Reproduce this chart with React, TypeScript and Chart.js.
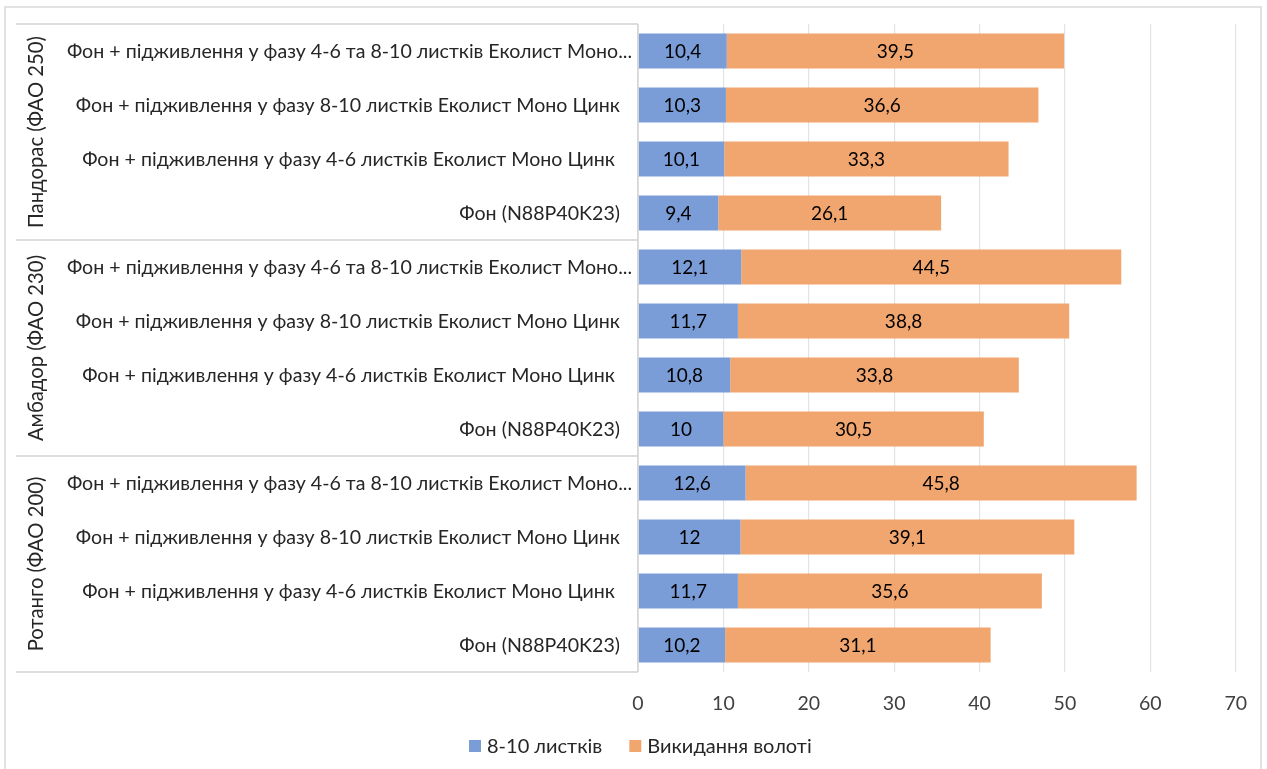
import React, { useEffect, useRef } from "react";
import { Chart, registerables } from "chart.js";

Chart.register(...registerables);

const groups = ["Пандорас (ФАО 250)", "Амбадор (ФАО 230)", "Ротанго (ФАО 200)"];
const variants = [
  "Фон + підживлення у фазу 4-6 та 8-10 листків Еколист Моно...",
  "Фон + підживлення у фазу 8-10 листків Еколист Моно Цинк",
  "Фон + підживлення у фазу 4-6 листків Еколист Моно Цинк ",
  "Фон (N88P40K23)",
];
const categories = groups.flatMap(() => variants);
const seriesNames = ["8-10 листків", "Викидання волоті"];
const leaves810 = [10.4, 10.3, 10.1, 9.4, 12.1, 11.7, 10.8, 10, 12.6, 12, 11.7, 10.2];
const panicle = [39.5, 36.6, 33.3, 26.1, 44.5, 38.8, 33.8, 30.5, 45.8, 39.1, 35.6, 31.1];
const xTicks = [0, 10, 20, 30, 40, 50, 60, 70];

const FONT = "Lato, 'Open Sans', sans-serif";
const BLUE = "#7b9dd7";
const ORANGE = "#f2a66f";
const LINE = "#d4d4d4";

const framePlugin = {
  id: "frame",
  beforeDraw(chart: any) {
    const { ctx, width, height } = chart;
    ctx.save();
    ctx.fillStyle = "#ffffff";
    ctx.fillRect(0, 0, width, height);
    ctx.strokeStyle = "#d9d9d9";
    ctx.lineWidth = 1.5;
    ctx.strokeRect(5, 7, 1256, height + 10);
    ctx.restore();
  },
  afterDraw(chart: any) {
    const { ctx, chartArea } = chart;
    const y = chart.scales.y;
    const left = 16;
    const right = chartArea.left;
    ctx.save();
    ctx.strokeStyle = LINE;
    ctx.lineWidth = 1.5;
    const per = variants.length;
    const bounds: number[] = [chartArea.top];
    for (let g = 1; g < groups.length; g++) {
      const a = y.getPixelForValue(g * per - 1);
      const b = y.getPixelForValue(g * per);
      bounds.push((a + b) / 2);
    }
    bounds.push(chartArea.bottom);
    ctx.beginPath();
    bounds.forEach((yy) => {
      ctx.moveTo(left, yy);
      ctx.lineTo(right, yy);
    });
    ctx.moveTo(right, chartArea.top);
    ctx.lineTo(right, chartArea.bottom);
    ctx.stroke();

    // group labels
    ctx.fillStyle = "#262626";
    ctx.font = `20.3px ${FONT}`;
    ctx.textAlign = "center";
    ctx.textBaseline = "middle";
    groups.forEach((g, i) => {
      const cy = (bounds[i] + bounds[i + 1]) / 2;
      ctx.save();
      ctx.translate(36, cy);
      ctx.rotate(-Math.PI / 2);
      ctx.fillText(g, 0, 0);
      ctx.restore();
    });

    // category labels
    ctx.font = `19.6px ${FONT}`;
    ctx.textAlign = "right";
    categories.forEach((c, i) => {
      const cy = y.getPixelForValue(i);
      const rx = c.endsWith("...") ? right - 6 : right - 18;
      ctx.fillText(c, rx, cy + 1);
    });

    // value labels
    ctx.fillStyle = "#000000";
    ctx.font = `19px ${FONT}`;
    ctx.textAlign = "center";
    chart.data.datasets.forEach((ds: any, di: number) => {
      const meta = chart.getDatasetMeta(di);
      meta.data.forEach((el: any, i: number) => {
        const v = ds.data[i];
        const cx = (el.x + el.base) / 2;
        ctx.fillText(String(v).replace(".", ","), cx, el.y + 1);
      });
    });

    // legend
    ctx.font = `20px ${FONT}`;
    ctx.textAlign = "left";
    ctx.fillStyle = "#262626";
    const colors = [BLUE, ORANGE];
    const ly = 746;
    let lx = 469;
    seriesNames.forEach((name, i) => {
      ctx.fillStyle = colors[i];
      ctx.fillRect(lx, ly - 6, 12, 12);
      ctx.fillStyle = "#262626";
      ctx.fillText(name, lx + 18, ly + 1);
      lx += 18 + ctx.measureText(name).width + 27;
    });
    ctx.restore();
  },
};

export default function App() {
  const ref = useRef<HTMLCanvasElement>(null);
  useEffect(() => {
    if (!ref.current) return;
    const chart = new Chart(ref.current, {
      type: "bar",
      data: {
        labels: categories,
        datasets: [
          { label: seriesNames[0], data: leaves810, backgroundColor: BLUE, borderWidth: 0 },
          { label: seriesNames[1], data: panicle, backgroundColor: ORANGE, borderWidth: 0 },
        ],
      },
      plugins: [framePlugin],
      options: {
        indexAxis: "y",
        animation: false,
        responsive: true,
        maintainAspectRatio: false,
        datasets: { bar: { barPercentage: 0.65, categoryPercentage: 1 } },
        layout: { padding: { top: 24, right: 29, left: 0, bottom: 45 } },
        scales: {
          x: {
            stacked: true,
            min: 0,
            max: 70,
            afterBuildTicks(scale: any) {
              scale.ticks = xTicks.map((v) => ({ value: v }));
            },
            afterFit(scale: any) {
              scale.height = 52;
            },
            grid: { color: "#e3e3e3", lineWidth: 1.2, drawTicks: false },
            border: { display: false },
            ticks: { color: "#404040", font: { family: FONT, size: 19.5 }, padding: 20 },
          },
          y: {
            stacked: true,
            afterFit(scale: any) {
              scale.width = 638;
            },
            grid: { display: false, drawTicks: false },
            border: { display: false },
            ticks: { display: false, autoSkip: false },
          },
        },
        plugins: {
          legend: { display: false },
          tooltip: { enabled: false },
        },
      } as any,
    });
    return () => chart.destroy();
  }, []);
  return (
    <div style={{ position: "absolute", left: 0, top: 0, width: 1267, height: 769 }}>
      <canvas ref={ref} />
    </div>
  );
}
